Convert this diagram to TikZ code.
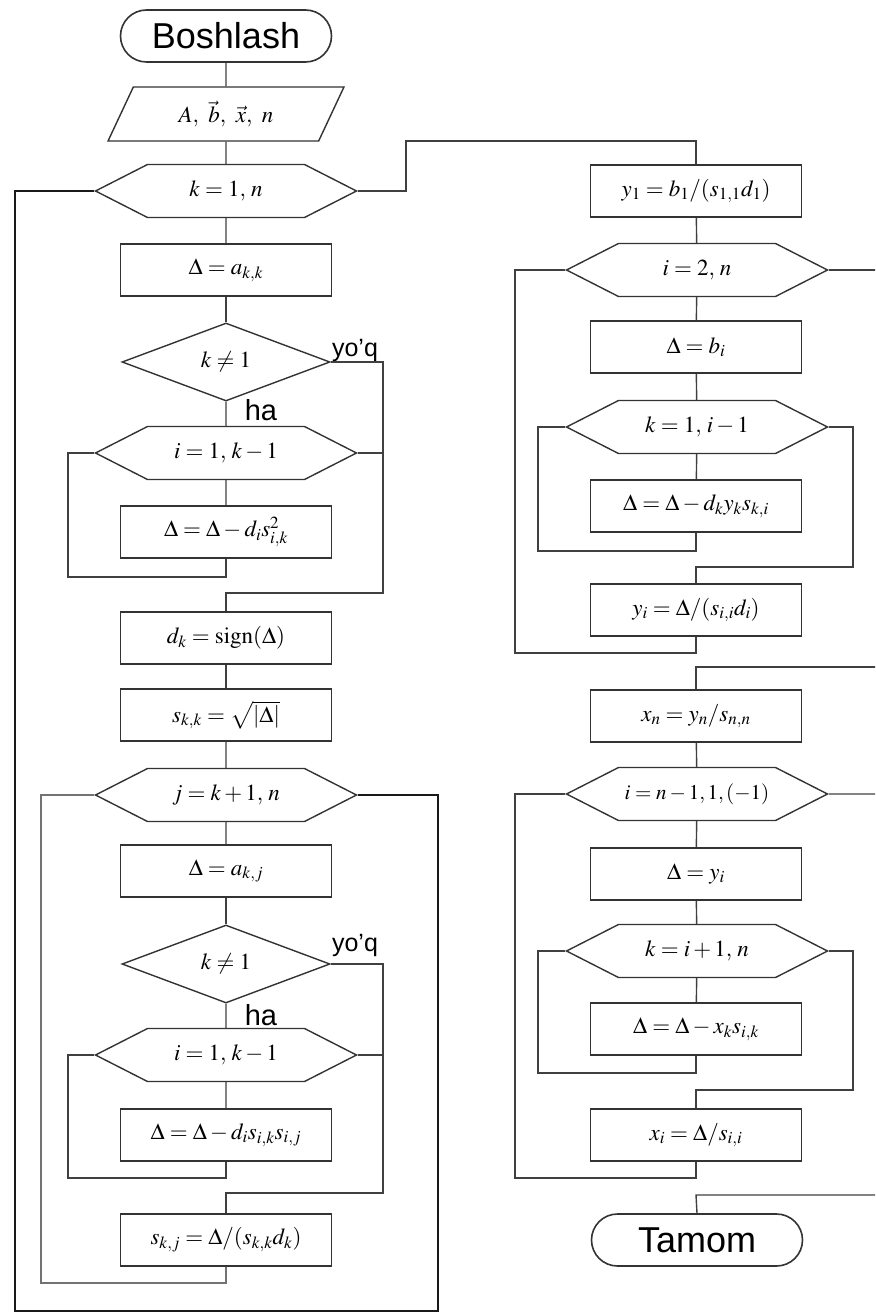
\documentclass[tikz,border=0pt]{standalone}
\usepackage{mathptmx}
\usepackage[no-math]{fontspec}
\newfontfamily\labsans{Liberation Sans}
\usetikzlibrary{shapes.geometric,shapes.misc,shapes.symbols}
\tikzset{
  every node/.style={font=\fontsize{23}{27}\selectfont},
  ln/.style={line width=1.4pt, draw=black!75},
  stepbox/.style={draw=black!80, line width=1.6pt, rectangle, minimum width=211pt, minimum height=52pt, inner sep=0pt},
  hexa/.style={draw=black!80, line width=1.4pt, signal, signal to=east and west, signal pointer angle=54, minimum width=261pt, minimum height=53pt, inner sep=0pt},
  cond/.style={draw=black!80, line width=1.4pt, diamond, minimum width=208pt, minimum height=78pt, inner sep=0pt},
  term/.style={draw=black!80, line width=1.6pt, rounded rectangle, minimum width=211pt, minimum height=52pt, inner sep=0pt, font=\labsans\fontsize{36}{40}\selectfont},
  iobox/.style={draw=black!80, line width=1.4pt, trapezium, trapezium left angle=64, trapezium right angle=116, trapezium stretches=true, minimum width=236pt, minimum height=54pt, inner sep=0pt},
  lab/.style={font=\labsans\fontsize{25}{29}\selectfont, inner sep=0pt},
  labbig/.style={font=\labsans\fontsize{29}{32}\selectfont, inner sep=0pt},
}
\begin{document}
\begin{tikzpicture}[x=1pt,y=-1pt]
\useasboundingbox (0,0) rectangle (875,1313);
\clip (0,0) rectangle (875,1313);
% ---------------- left column ----------------
\node[term] (start) at (226,36) {Boshlash};
\node[iobox] (inp) at (226,114) {$A,\ \vec{b},\ \vec{x},\ n$};
\node[hexa] (hk) at (226,191) {$k=1,\,n$};
\node[stepbox] (b1) at (226,270) {$\Delta=a_{k,k}$};
\node[cond] (d1) at (226,362) {$k\neq1$};
\node[hexa] (hi1) at (226,453) {$i=1,\,k-1$};
\node[stepbox] (b2) at (226,532) {$\Delta=\Delta-d_i s_{i,k}^2$};
\node[stepbox] (b3) at (226,638) {$d_k=\mathrm{sign}(\Delta)$};
\node[stepbox] (b4) at (226,715) {$s_{k,k}=\sqrt{|\Delta|}$};
\node[hexa] (hj) at (226,795) {$j=k+1,\,n$};
\node[stepbox] (b5) at (226,871) {$\Delta=a_{k,j}$};
\node[cond] (d2) at (226,964) {$k\neq1$};
\node[hexa] (hi2) at (226,1055) {$i=1,\,k-1$};
\node[stepbox] (b6) at (226,1135) {$\Delta=\Delta-d_i s_{i,k} s_{i,j}$};
\node[stepbox] (b7) at (226,1240) {$s_{k,j}=\Delta/(s_{k,k}d_k)$};
\node[lab] (y1) at (355,350) {yo’q};
\node[labbig] (h1) at (261,410) {ha};
\node[lab] (y2) at (355,945) {yo’q};
\node[labbig] (h2) at (261,1015) {ha};
% ---------------- right column ----------------
\node[stepbox] (r1) at (696,191) {$y_1=b_1/(s_{1,1}d_1)$};
\node[hexa] (rh1) at (697,270) {$i=2,\,n$};
\node[stepbox] (r2) at (696,347) {$\Delta=b_i$};
\node[hexa] (rh2) at (697,427) {$k=1,\,i-1$};
\node[stepbox] (r3) at (696,506) {$\Delta=\Delta-d_k y_k s_{k,i}$};
\node[stepbox] (r4) at (696,610) {$y_i=\Delta/(s_{i,i}d_i)$};
\node[stepbox] (r5) at (696,716) {$x_n=y_n/s_{n,n}$};
\node[hexa, font=\fontsize{21}{25}\selectfont] (rh3) at (697,794) {$i=n-1,1,(-1)$};
\node[stepbox] (r6) at (696,874) {$\Delta=y_i$};
\node[hexa] (rh4) at (697,951) {$k=i+1,\,n$};
\node[stepbox] (r7) at (696,1029) {$\Delta=\Delta-x_k s_{i,k}$};
\node[stepbox] (r8) at (696,1135) {$x_i=\Delta/s_{i,i}$};
\node[term] (end) at (697,1240) {Tamom};
% ---------------- helper coordinates ----------------
\coordinate (a1) at (68,577);  \coordinate (a2) at (68,453);
\coordinate (a3) at (383,362); \coordinate (a4) at (383,593); \coordinate (a5) at (226,593);
\coordinate (a6) at (383,453);
\coordinate (c1) at (68,1178); \coordinate (c2) at (68,1055);
\coordinate (c3) at (383,964); \coordinate (c4) at (383,1193); \coordinate (c5) at (226,1193);
\coordinate (c6) at (383,1055);
\coordinate (j1) at (41,1283); \coordinate (j2) at (41,795);
\coordinate (j3) at (438,795); \coordinate (j4) at (438,1311);
\coordinate (k1) at (15,1311); \coordinate (k2) at (15,191);
\coordinate (m1) at (406,191); \coordinate (m2) at (406,141); \coordinate (m3) at (696,141);
\coordinate (p1) at (538,551); \coordinate (p2) at (538,427);
\coordinate (p3) at (853,427); \coordinate (p4) at (853,567); \coordinate (p5) at (696,567);
\coordinate (q1) at (515,653); \coordinate (q2) at (515,270);
\coordinate (q3) at (880,270); \coordinate (q4) at (880,667); \coordinate (q5) at (696,667);
\coordinate (s1) at (538,1073); \coordinate (s2) at (538,951);
\coordinate (s3) at (853,951); \coordinate (s4) at (853,1090); \coordinate (s5) at (696,1090);
\coordinate (t1) at (515,1178); \coordinate (t2) at (515,794);
\coordinate (t3) at (880,794); \coordinate (t4) at (880,1195); \coordinate (t5) at (696,1195);
% ---------------- connectors: left ----------------
\draw[ln] (start) -- (inp);
\draw[ln] (inp) -- (hk);
\draw[ln] (hk) -- (b1);
\draw[ln] (b1) -- (d1);
\draw[ln] (d1) -- (hi1);
\draw[ln] (hi1) -- (b2);
\draw[ln] (b2.south) |- (a1) -- (a2) -- (hi1.west);
\draw[ln] (d1.east) -- (a3) -- (a4) -- (a5) -- (b3.north);
\draw[ln] (hi1.east) -- (a6);
\draw[ln] (b3) -- (b4);
\draw[ln] (b4) -- (hj);
\draw[ln] (hj) -- (b5);
\draw[ln] (b5) -- (d2);
\draw[ln] (d2) -- (hi2);
\draw[ln] (hi2) -- (b6);
\draw[ln] (b6.south) |- (c1) -- (c2) -- (hi2.west);
\draw[ln] (d2.east) -- (c3) -- (c4) -- (c5) -- (b7.north);
\draw[ln] (hi2.east) -- (c6);
\draw[ln, line width=2.2pt, draw=black!55] (b7.south) |- (j1) -- (j2) -- (hj.west);
\draw[ln, line width=1.8pt, draw=black!90] (hj.east) -- (j3) -- (j4) -- (k1) -- (k2) -- (hk.west);
% ---------------- connectors: right ----------------
\draw[ln] (hk.east) -- (m1) -- (m2) -- (m3) -- (r1.north);
\draw[ln] (r1) -- (rh1);
\draw[ln] (rh1) -- (r2);
\draw[ln] (r2) -- (rh2);
\draw[ln] (rh2) -- (r3);
\draw[ln] (r3.south) |- (p1) -- (p2) -- (rh2.west);
\draw[ln] (rh2.east) -- (p3) -- (p4) -- (p5) -- (r4.north);
\draw[ln] (r4.south) |- (q1) -- (q2) -- (rh1.west);
\draw[ln] (rh1.east) -- (q3) -- (q4) -- (q5) -- (r5.north);
\draw[ln] (r5) -- (rh3);
\draw[ln] (rh3) -- (r6);
\draw[ln] (r6) -- (rh4);
\draw[ln] (rh4) -- (r7);
\draw[ln] (r7.south) |- (s1) -- (s2) -- (rh4.west);
\draw[ln] (rh4.east) -- (s3) -- (s4) -- (s5) -- (r8.north);
\draw[ln] (r8.south) |- (t1) -- (t2) -- (rh3.west);
\draw[ln] (rh3.east) -- (t3) -- (t4) -- (t5) -- (end.north);
\end{tikzpicture}
\end{document}
